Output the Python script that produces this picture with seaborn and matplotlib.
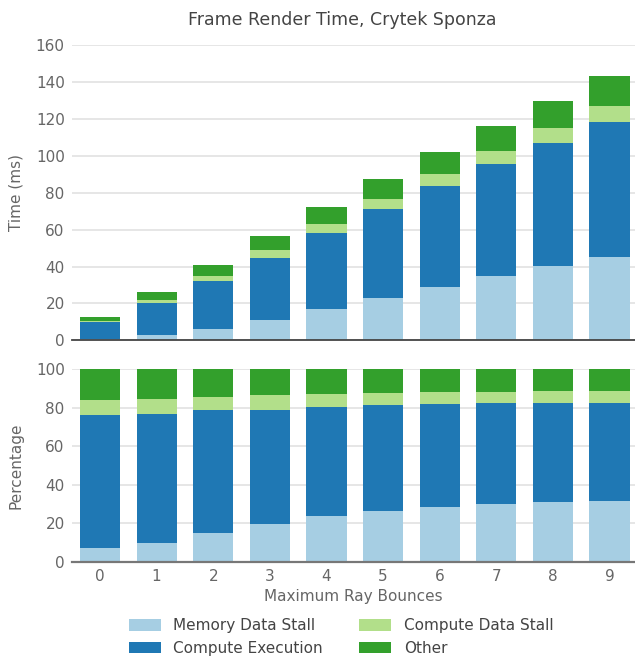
import matplotlib
matplotlib.use("Agg")
import matplotlib.pyplot as plt
from matplotlib.patches import Patch
import numpy as np
import pandas as pd
import seaborn as sns

# Frame time breakdown (ms) per maximum ray bounce count
bounces = ["0", "1", "2", "3", "4", "5", "6", "7", "8", "9"]
memory_data_stall = [0.93, 2.6, 6.0, 11.0, 17.0, 23.0, 28.9, 34.9, 40.3, 45.2]
compute_execution = [8.73, 17.5, 26.2, 33.7, 41.2, 48.2, 54.8, 60.8, 66.8, 73.2]
compute_data_stall = [0.99, 2.0, 2.7, 4.3, 4.9, 5.5, 6.5, 7.0, 8.1, 8.7]
other = [2.05, 4.1, 6.0, 7.6, 9.2, 10.8, 12.0, 13.6, 14.6, 16.3]

series = ["Memory Data Stall", "Compute Execution", "Compute Data Stall", "Other"]
colors = ["#a6cee3", "#1f78b4", "#b2df8a", "#33a02c"]

df = pd.DataFrame({
    "bounces": bounces,
    "Memory Data Stall": memory_data_stall,
    "Compute Execution": compute_execution,
    "Compute Data Stall": compute_data_stall,
    "Other": other,
})

cum = df[series].cumsum(axis=1)
pct = cum.div(cum["Other"], axis=0) * 100

sns.set_style("white")
plt.rcParams["font.family"] = ["DejaVu Sans"]

TEXT = "#666666"
GRID = "#e2e2e2"

fig = plt.figure(figsize=(6.35, 6.62), dpi=100)
ax_top = fig.add_axes([0.1129, 0.486, 0.887, 0.4456])
ax_bot = fig.add_axes([0.1129, 0.1515, 0.887, 0.291])


def stacked(ax, table):
    # draw cumulative totals from the top down so each layer covers the one above
    for name, color in reversed(list(zip(series, colors))):
        sns.barplot(x=df["bounces"], y=table[name], color=color, saturation=1,
                    width=0.71, linewidth=0, ax=ax, zorder=2)


stacked(ax_top, cum)
stacked(ax_bot, pct)

for ax, ymax, step in [(ax_top, 160, 20), (ax_bot, 100, 20)]:
    ax.set_xlim(-0.5, 9.45)
    ax.set_ylim(0, ymax)
    ax.set_yticks(np.arange(0, ymax + 1, step))
    ax.grid(axis="y", color=GRID, linewidth=1.2, zorder=0)
    ax.set_axisbelow(True)
    for s in ["top", "right", "left"]:
        ax.spines[s].set_visible(False)
    ax.tick_params(axis="both", length=0, labelsize=11, colors=TEXT, pad=5)
    ax.set_xlabel("")

ax_top.spines["bottom"].set_color("#444444")
ax_top.spines["bottom"].set_linewidth(1.3)
ax_top.set_xticklabels([])
ax_bot.spines["bottom"].set_color("#777777")
ax_bot.spines["bottom"].set_linewidth(1.6)

ax_top.set_ylabel("Time (ms)", fontsize=11, color=TEXT, labelpad=9)
ax_bot.set_ylabel("Percentage", fontsize=11, color=TEXT, labelpad=9)
ax_bot.set_xlabel("Maximum Ray Bounces", fontsize=11, color=TEXT, labelpad=4)
ax_bot.set_xticks(range(len(bounces)))
ax_bot.set_xticklabels(bounces)

fig.text(0.539, 0.970, "Frame Render Time, Crytek Sponza", ha="center", va="center",
         fontsize=12.5, color="#444444")

handles = [Patch(facecolor=c, edgecolor="none", label=n) for n, c in zip(series, colors)]
fig.legend(handles=handles, loc="center", bbox_to_anchor=(0.537, 0.038), ncol=2,
           frameon=False, fontsize=11, handlelength=2.1, handleheight=0.8,
           handletextpad=0.8, columnspacing=2.4, labelspacing=0.5, labelcolor="#444444")

fig.savefig("out.png", dpi=100)
